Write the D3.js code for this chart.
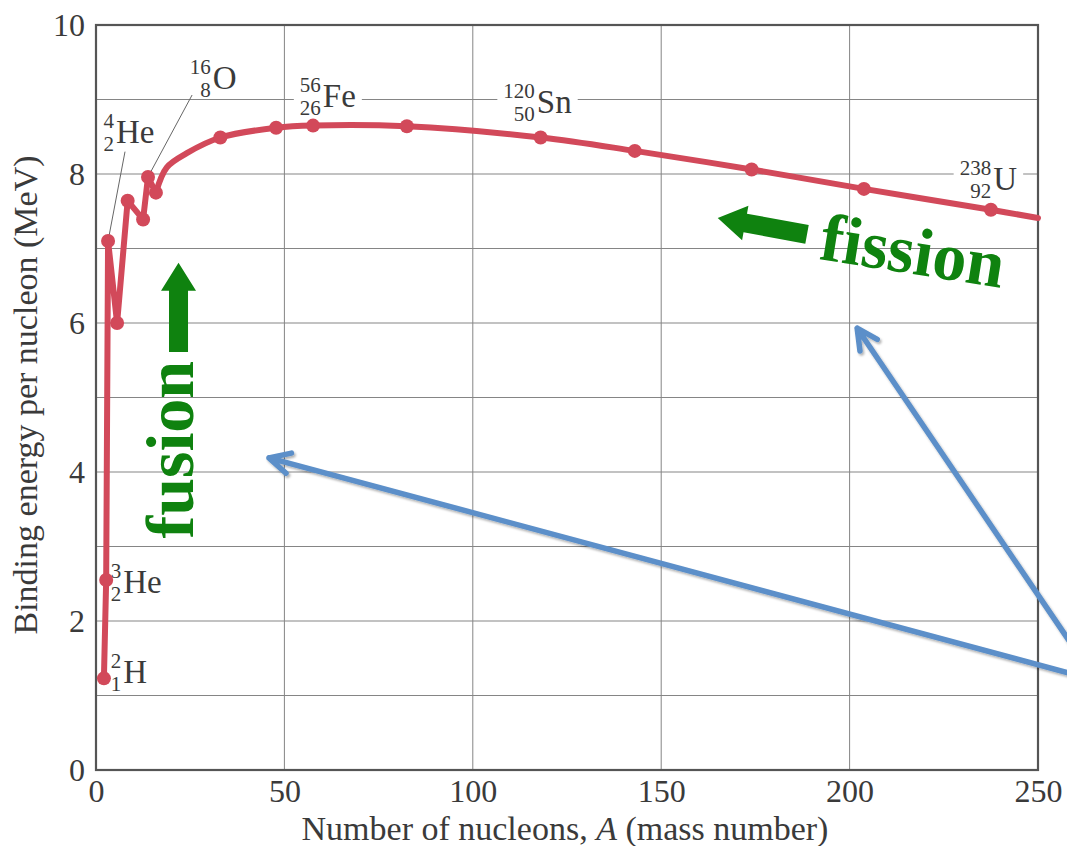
<!DOCTYPE html>
<html>
<head>
<meta charset="utf-8">
<script src="https://cdn.jsdelivr.net/npm/d3@7"></script>
<style>
  body { margin: 0; background: #fff; }
  svg { display: block; }
  svg text { font-family: "Liberation Serif", "Times New Roman", Times, serif; }
</style>
</head>
<body>
<svg id="chart" width="1067" height="846"></svg>
<script>
// curve points (A, binding energy per nucleon in MeV)
const massNumber    = [2.1, 2.7, 3.2, 5.6, 8.4, 12.5, 13.8, 15.9, 18.8, 24.1, 33.0, 47.8, 57.6, 82.5, 118.0, 143.0, 174.0, 203.8, 237.5, 250];
const bindingEnergy = [1.23, 2.55, 7.10, 6.00, 7.64, 7.39, 7.96, 7.75, 8.09, 8.28, 8.49, 8.62, 8.65, 8.64, 8.49, 8.31, 8.06, 7.80, 7.52, 7.41];
const hasDot        = [1, 1, 1, 1, 1, 1, 1, 1, 0, 0, 1, 1, 1, 1, 1, 1, 1, 1, 1, 0];
const smoothFrom = 7; // light nuclei are joined straight, the rest is a smooth curve

const xTicks = [0, 50, 100, 150, 200, 250];
const yTicks = [0, 2, 4, 6, 8, 10];

// nuclide labels
const nuclideSymbol = ["H", "He", "He", "O", "Fe", "Sn", "U"];
const nuclideMass   = ["2", "3", "4", "16", "56", "120", "238"];
const nuclideZ      = ["1", "2", "2", "8", "26", "50", "92"];

// layout (data units) for labels, leader lines and arrows
const labelPos = [[7.2, 1.17], [7.2, 2.38], [5.3, 8.42], [31.0, 9.14], [60.2, 8.90], [117.0, 8.82], [238.1, 7.79]];
const labelGap = [0, 0, 0, 0, 1, 1, 1];
const leaders = [
  { from: [7.7, 8.30], to: [3.2, 7.10] },
  { from: [25.5, 9.06], to: [13.8, 7.96] }
];

const x = d3.scaleLinear().domain([0, 250]).range([96, 1038]);
const y = d3.scaleLinear().domain([0, 10]).range([770, 25]);

const svg = d3.select("#chart");
const red = "#d2495a", green = "#0f820f", blue = "#5b8fc9", ink = "#3a3a3a";
const serif = "'Liberation Serif', 'Times New Roman', Times, serif";

const defs = svg.append("defs");
const sh = defs.append("filter").attr("id", "shadow").attr("x", "-10%").attr("y", "-10%").attr("width", "120%").attr("height", "120%");
sh.append("feDropShadow").attr("dx", 1.5).attr("dy", 2).attr("stdDeviation", 1.2).attr("flood-color", "#000").attr("flood-opacity", 0.3);

// grid
const grid = svg.append("g");
grid.selectAll("line.h").data(d3.range(1, 10)).join("line")
  .attr("x1", x(0)).attr("x2", x(250))
  .attr("y1", d => y(d)).attr("y2", d => y(d))
  .attr("stroke", "#858585").attr("stroke-width", 1);
grid.selectAll("line.v").data([50, 100, 150, 200]).join("line")
  .attr("y1", y(0)).attr("y2", y(10))
  .attr("x1", d => x(d)).attr("x2", d => x(d))
  .attr("stroke", "#858585").attr("stroke-width", 1);

svg.append("rect")
  .attr("x", x(0)).attr("y", y(10))
  .attr("width", x(250) - x(0)).attr("height", y(0) - y(10))
  .attr("fill", "none").attr("stroke", "#555").attr("stroke-width", 2.2);

// axes
const gx = svg.append("g").attr("transform", `translate(0,${y(0)})`)
  .call(d3.axisBottom(x).tickValues(xTicks).tickSize(0).tickPadding(9));
const gy = svg.append("g").attr("transform", `translate(${x(0)},0)`)
  .call(d3.axisLeft(y).tickValues(yTicks).tickSize(0).tickPadding(11));
[gx, gy].forEach(g => {
  g.attr("font-family", serif);
  g.select(".domain").remove();
  g.selectAll("text").attr("font-size", 32).attr("fill", ink);
});

// axis titles
const xt = svg.append("text")
  .attr("x", 565).attr("y", 840)
  .attr("text-anchor", "middle").attr("font-size", 34).attr("fill", ink);
xt.append("tspan").text("Number of nucleons, ");
xt.append("tspan").attr("font-style", "italic").text("A");
xt.append("tspan").text(" (mass number)");

svg.append("text")
  .attr("transform", "translate(37,395) rotate(-90)")
  .attr("text-anchor", "middle").attr("font-size", 34).attr("fill", ink)
  .text("Binding energy per nucleon (MeV)");

// nuclide labels
const labels = svg.append("g");
nuclideSymbol.forEach((s, i) => {
  const sx = x(labelPos[i][0]), sb = y(labelPos[i][1]);
  const g = labels.append("g");
  const bg = g.append("rect").attr("fill", "#fff");
  g.append("text").attr("x", sx).attr("y", sb).attr("font-size", 33).attr("fill", ink).text(s);
  g.append("text").attr("x", sx - 2).attr("y", sb - 15).attr("text-anchor", "end").attr("font-size", 21).attr("fill", ink).text(nuclideMass[i]);
  g.append("text").attr("x", sx - 2).attr("y", sb + 8).attr("text-anchor", "end").attr("font-size", 21).attr("fill", ink).text(nuclideZ[i]);
  if (labelGap[i]) {
    const b = g.node().getBBox();
    bg.attr("x", b.x - 6).attr("width", b.width + 12).attr("y", b.y).attr("height", b.height);
  }
});

labels.selectAll("line").data(leaders).join("line")
  .attr("x1", d => x(d.from[0])).attr("y1", d => y(d.from[1]))
  .attr("x2", d => x(d.to[0])).attr("y2", d => y(d.to[1]))
  .attr("stroke", "#666").attr("stroke-width", 1);

// curve
const pts = massNumber.map((a, i) => ({ a, b: bindingEnergy[i], dot: hasDot[i] }));
const straight = d3.line().x(d => x(d.a)).y(d => y(d.b));
const smooth = d3.line().x(d => x(d.a)).y(d => y(d.b)).curve(d3.curveCatmullRom.alpha(0.5));
[straight(pts.slice(0, smoothFrom + 1)), smooth(pts.slice(smoothFrom))].forEach(d => {
  svg.append("path").attr("d", d)
    .attr("fill", "none").attr("stroke", red).attr("stroke-width", 6)
    .attr("stroke-linejoin", "round").attr("stroke-linecap", "round");
});
svg.append("g").selectAll("circle").data(pts.filter(d => d.dot)).join("circle")
  .attr("cx", d => x(d.a)).attr("cy", d => y(d.b)).attr("r", 7).attr("fill", red);

// green block arrows
function blockArrow(x0, y0, x1, y1) {
  const len = Math.hypot(x1 - x0, y1 - y0);
  const ang = Math.atan2(y1 - y0, x1 - x0) * 180 / Math.PI;
  const hl = 28, hw = 17.5, sw = 9.5;
  const p = [[0, -sw], [len - hl, -sw], [len - hl, -hw], [len, 0], [len - hl, hw], [len - hl, sw], [0, sw]];
  svg.append("polygon")
    .attr("points", p.map(q => q.join(",")).join(" "))
    .attr("transform", `translate(${x0},${y0}) rotate(${ang})`)
    .attr("fill", green);
}
blockArrow(x(21.9), y(5.61), x(21.9), y(6.81));
blockArrow(x(188.7), y(7.19), x(165.0), y(7.41));

svg.append("text")
  .attr("transform", `translate(${x(25.7)},${y(4.30)}) rotate(-90)`)
  .attr("text-anchor", "middle").attr("font-size", 68).attr("font-weight", "bold").attr("fill", green)
  .text("fusion");
svg.append("text")
  .attr("transform", `translate(${x(191.6)},${y(6.86)}) rotate(9)`)
  .attr("font-size", 68).attr("font-weight", "bold").attr("fill", green)
  .text("fission");

// blue pointer arrows
const pointers = [
  { tail: [259.8, 1.62], tip: [202.0, 5.93] },
  { tail: [259.8, 1.28], tip: [45.9, 4.19] }
];
const pg = svg.append("g").attr("filter", "url(#shadow)");
pointers.forEach(p => {
  const tx = x(p.tip[0]), ty = y(p.tip[1]);
  const bx = x(p.tail[0]), by = y(p.tail[1]);
  const a = Math.atan2(by - ty, bx - tx);
  const arm = 23, spread = 27 * Math.PI / 180;
  const path = `M${bx},${by}L${tx},${ty}` +
    `M${tx + arm * Math.cos(a - spread)},${ty + arm * Math.sin(a - spread)}L${tx},${ty}` +
    `L${tx + arm * Math.cos(a + spread)},${ty + arm * Math.sin(a + spread)}`;
  pg.append("path").attr("d", path)
    .attr("fill", "none").attr("stroke", blue).attr("stroke-width", 5.5)
    .attr("stroke-linecap", "round").attr("stroke-linejoin", "round");
});
</script>
</body>
</html>
